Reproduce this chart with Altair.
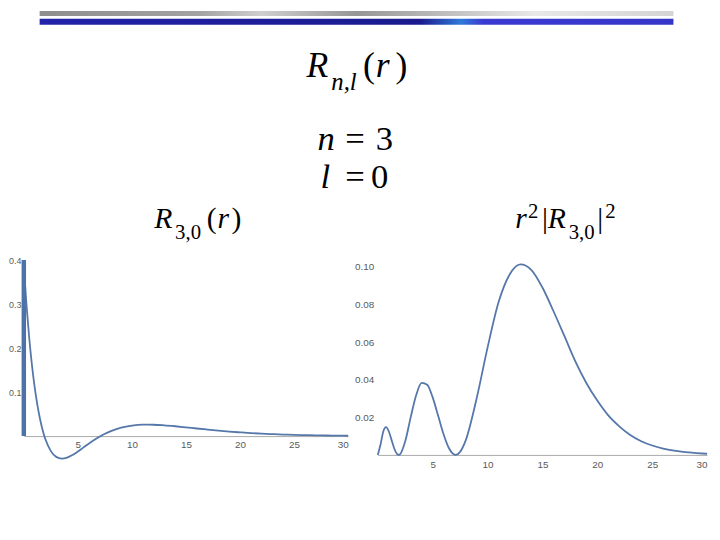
import altair as alt
import pandas as pd

# ---- data ----
r_vals = [0, 0.25, 0.5, 0.75, 1, 1.25, 1.5, 1.75, 1.9, 2, 2.5, 3, 3.5, 4, 4.5, 5, 5.5, 6, 6.5, 7, 7.1, 7.5, 8,
          9, 10, 11, 12, 13, 14, 15, 16, 17, 18, 19, 20, 21, 22, 23, 24, 25, 26, 27, 28, 29, 30]
R30 = [0.385, 0.297, 0.223, 0.162, 0.112, 0.0717, 0.0389, 0.0129, 0.0, -0.0073, -0.0341, -0.0472, -0.0510,
       -0.0489, -0.0429, -0.0350, -0.0262, -0.0174, -0.0090, -0.0014, 0.0, 0.0053, 0.0109,
       0.0192, 0.0239, 0.0259, 0.0258, 0.0245, 0.0224, 0.0199, 0.0173, 0.0148, 0.0124, 0.0103, 0.0085,
       0.0069, 0.0056, 0.0045, 0.0036, 0.0028, 0.0022, 0.0018, 0.0014, 0.0011, 0.0008]
P30 = [0.0, 0.0055, 0.0125, 0.0148, 0.0126, 0.0080, 0.0034, 0.0005, 0.0, 0.0002, 0.0073, 0.0201, 0.0319,
       0.0383, 0.0373, 0.0306, 0.0208, 0.0109, 0.0034, 0.0001, 0.0, 0.0016, 0.0076,
       0.0299, 0.0571, 0.0812, 0.0959, 0.1014, 0.0984, 0.0891, 0.0766, 0.0633, 0.0498, 0.0383, 0.0289,
       0.0210, 0.0152, 0.0106, 0.0073, 0.0050, 0.0034, 0.0023, 0.0015, 0.0010, 0.0006]
bar_r = [0]
bar_lo = [0]
bar_hi = [0.4]
x_ticks = [5, 10, 15, 20, 25, 30]
left_y_ticks = [0.1, 0.2, 0.3, 0.4]
right_y_ticks = [0.02, 0.04, 0.06, 0.08, 0.10]

df = pd.DataFrame({"r": r_vals, "R": R30, "P": P30})
bar_df = pd.DataFrame({"r": bar_r, "R": bar_lo, "R2": bar_hi})
one = pd.DataFrame({"k": [0]})

W, H = 712, 524


def px(v):
    return v - 8  # page coordinate -> view coordinate


LINE = "#5577aa"
axis_style = dict(grid=False, title=None, ticks=False, domainColor="#a8a8a8", domainWidth=1,
                  labelColor="#5a5a5a", labelFont="Liberation Sans")

# ---- left panel: R_{3,0}(r) ----
lx_scale = alt.Scale(domain=[0, 30], range=[px(24), px(352)], nice=False)
ly_scale = alt.Scale(domain=[0, 0.4], range=[px(438), px(260)], nice=False)
lx_axis = alt.Axis(orient="bottom", offset=-(H - px(438)), values=x_ticks, labelPadding=4,
                   labelFontSize=10, **axis_style)
ly_axis = alt.Axis(orient="left", offset=-px(24), values=left_y_ticks, format=".1f", domain=False,
                   labelPadding=3, labelFontSize=9, **axis_style)

left_line = alt.Chart(df).mark_line(color=LINE, strokeWidth=1.8, interpolate="monotone").encode(
    x=alt.X("r:Q", scale=lx_scale, axis=lx_axis),
    y=alt.Y("R:Q", scale=ly_scale, axis=ly_axis),
)
left_bar = alt.Chart(bar_df).mark_rule(color="#4d72a8", strokeWidth=4.5).encode(
    x=alt.X("r:Q", scale=lx_scale, axis=lx_axis),
    y=alt.Y("R:Q", scale=ly_scale, axis=ly_axis),
    y2="R2:Q",
)
left = alt.layer(left_line, left_bar)

# ---- right panel: r^2 |R_{3,0}|^2 ----
rx_scale = alt.Scale(domain=[0, 30], range=[px(382), px(715)], nice=False)
ry_scale = alt.Scale(domain=[0, 0.10], range=[px(457), px(267)], nice=False)
rx_axis = alt.Axis(orient="bottom", offset=-(H - px(457)), values=x_ticks, labelPadding=5,
                   labelFontSize=10, **axis_style)
ry_axis = alt.Axis(orient="left", offset=-px(382), values=right_y_ticks, format=".2f", domain=False,
                   labelPadding=4, labelFontSize=10, **axis_style)
right = alt.Chart(df).mark_line(color=LINE, strokeWidth=1.8, interpolate="monotone").encode(
    x=alt.X("r:Q", scale=rx_scale, axis=rx_axis),
    y=alt.Y("P:Q", scale=ry_scale, axis=ry_axis),
)


# ---- text pieces ----
def txt(s, x, y, size, italic=False, align="left"):
    return alt.Chart(one).mark_text(
        text=s, font="Liberation Serif", fontSize=size,
        fontStyle="italic" if italic else "normal",
        align=align, baseline="alphabetic", color="black",
    ).encode(x=alt.value(px(x)), y=alt.value(px(y)))


texts = [
    # main title R_{n,l}(r)
    txt("R", 310, 75, 36, True),
    txt("n,l", 335, 88, 25, True),
    txt("(", 367, 75, 36),
    txt("r", 380, 75, 36, True),
    txt(")", 400, 75, 36),
    # n = 3, l = 0
    txt("n", 321, 149, 35, True),
    txt("=", 359, 149, 35, align="center"),
    txt("3", 380, 149, 35),
    txt("l", 324, 187, 35, True),
    txt("=", 359, 187, 35, align="center"),
    txt("0", 375, 187, 35),
    # left panel title R_{3,0}(r)
    txt("R", 156, 228, 30, True),
    txt("3,0", 177, 239, 21),
    txt("(", 209, 228, 30),
    txt("r", 220, 228, 30, True),
    txt(")", 234, 228, 30),
    # right panel title r^2 |R_{3,0}|^2
    txt("r", 521, 228, 30, True),
    txt("2", 534, 217, 21),
    txt("|", 548, 228, 30),
    txt("R", 554, 228, 30, True),
    txt("3,0", 575, 239, 21),
    txt("|", 604, 228, 30),
    txt("2", 612, 217, 21),
]

# ---- slide decoration bars ----
gray_grad = alt.Gradient(gradient="linear", x1=0, x2=1, y1=0, y2=0, stops=[
    alt.GradientStop(color="#8e8e8e", offset=0),
    alt.GradientStop(color="#a2a2a2", offset=0.25),
    alt.GradientStop(color="#cfcfcf", offset=0.35),
    alt.GradientStop(color="#969696", offset=0.5),
    alt.GradientStop(color="#b8b8b8", offset=0.62),
    alt.GradientStop(color="#e8e8e8", offset=0.78),
    alt.GradientStop(color="#d4d4d4", offset=1),
])
blue_grad = alt.Gradient(gradient="linear", x1=0, x2=1, y1=0, y2=0, stops=[
    alt.GradientStop(color="#2222aa", offset=0),
    alt.GradientStop(color="#1a1a8e", offset=0.6),
    alt.GradientStop(color="#2f7ad8", offset=0.665),
    alt.GradientStop(color="#3a3ad2", offset=0.7),
    alt.GradientStop(color="#3535c8", offset=1),
])
bars = [
    alt.Chart(one).mark_rect(color=gray_grad).encode(
        x=alt.value(px(40)), x2=alt.value(px(681)), y=alt.value(px(8)), y2=alt.value(px(13))),
    alt.Chart(one).mark_rect(color=blue_grad).encode(
        x=alt.value(px(40)), x2=alt.value(px(681)), y=alt.value(px(16)), y2=alt.value(px(22))),
]

chart = alt.layer(left, right, *bars, *texts).resolve_scale(
    x="independent", y="independent"
).resolve_axis(
    x="independent", y="independent"
).properties(
    width=W, height=H, padding=0, background="white",
    autosize=alt.AutoSizeParams(type="none"),
).configure_view(stroke=None)

chart.save("out.html", embed_options={"renderer": "svg", "actions": False})
